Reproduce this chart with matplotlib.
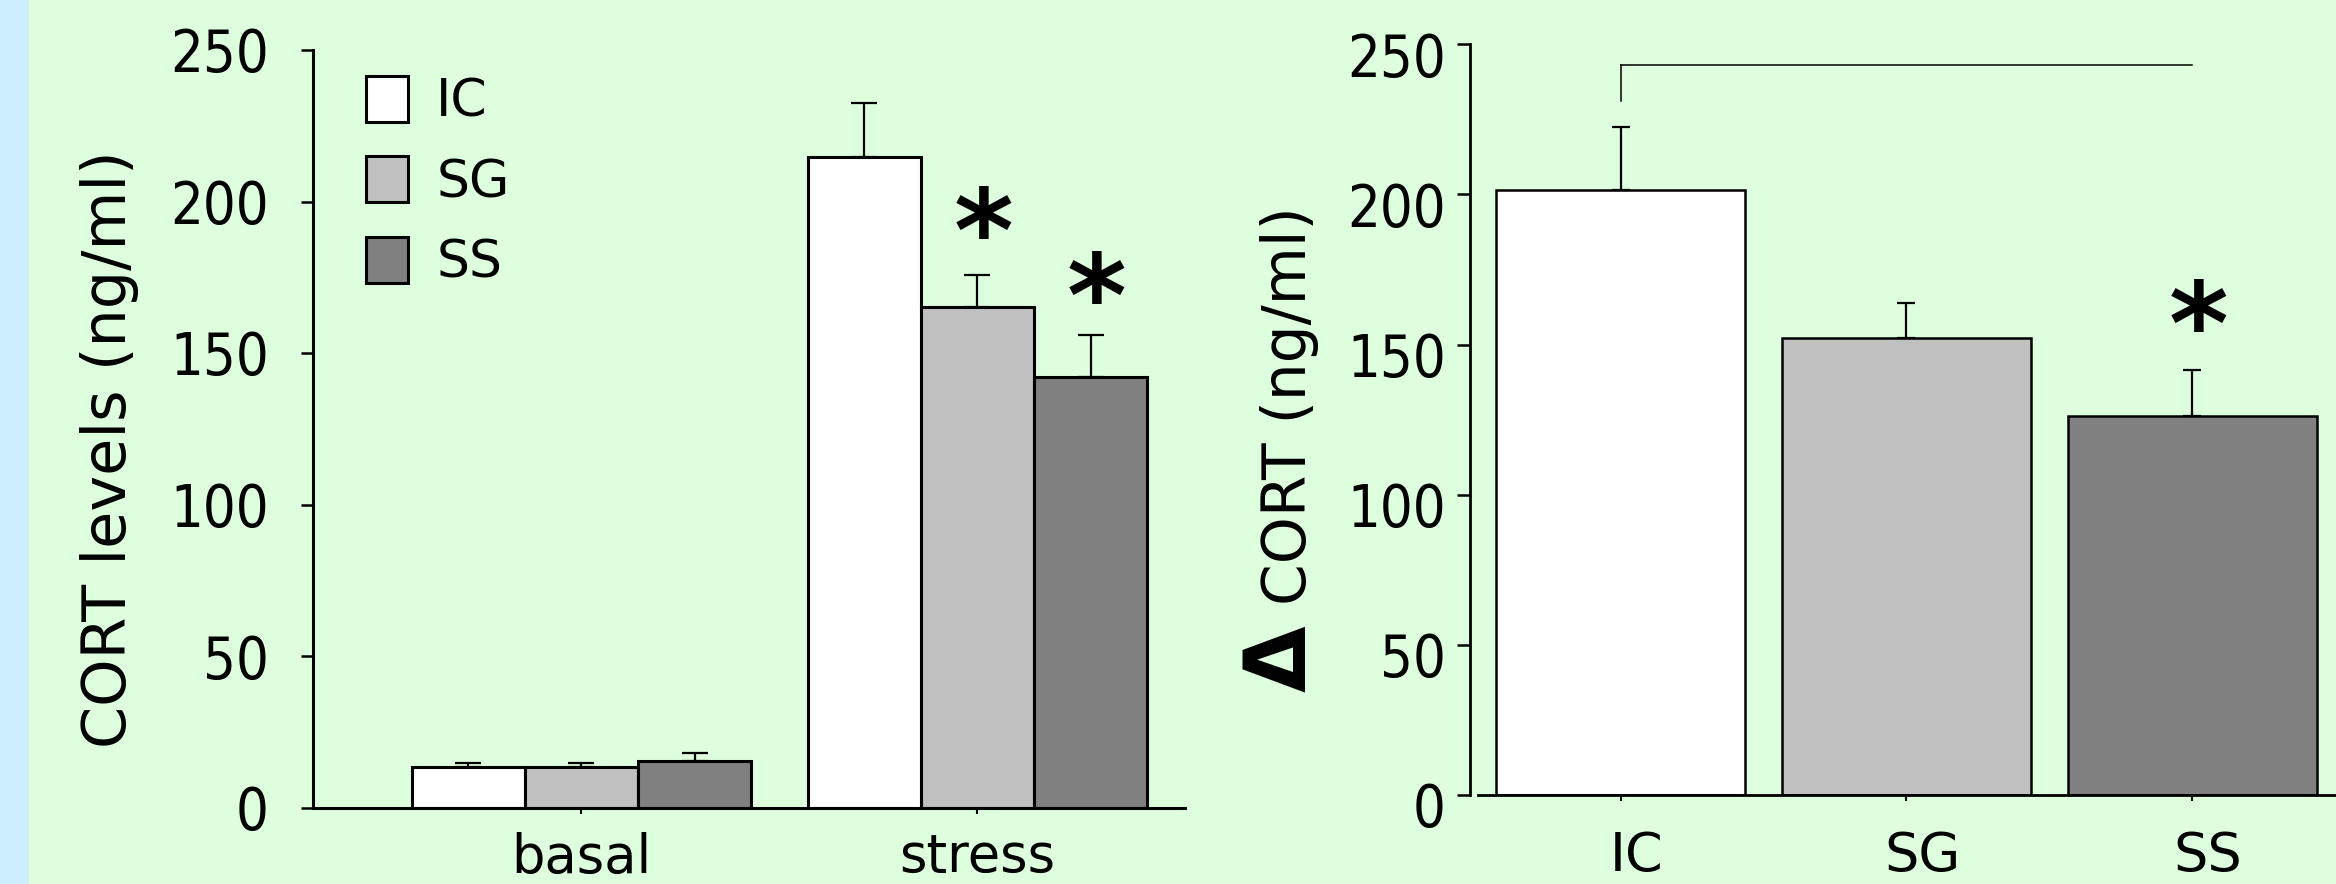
import matplotlib
matplotlib.use('Agg')
import matplotlib.pyplot as plt
from matplotlib.patches import Rectangle
from matplotlib.transforms import ScaledTranslation
import numpy as np

# ---------------- data ----------------
groups = ['IC', 'SG', 'SS']
conditions = ['basal', 'stress']
basal_mean = [13.3, 13.3, 15.5]
basal_sem = [1.5, 1.5, 2.6]
stress_mean = [214.6, 165.1, 142.0]
stress_sem = [18.0, 10.5, 14.0]
delta_mean = [201.5, 152.3, 126.3]
delta_sem = [21.0, 11.6, 15.2]
yticks = [0, 50, 100, 150, 200, 250]
left_star_y = [187.5, 166.0]     # stress SG, stress SS
right_star_y = 154.0              # SS
bracket_y = 243.0
bracket_leg_y = 231.0
colors = ['#ffffff', '#c0c0c0', '#808080']

W, H = 2336, 884
fig = plt.figure(figsize=(W / 100, H / 100), dpi=100, facecolor='#ddffdd')
fig.patches.append(Rectangle((0, 0), 29 / W, 1, transform=fig.transFigure,
                             facecolor='#cceeff', edgecolor='none', zorder=0))

star_off = ScaledTranslation(6 / 100, 0, fig.dpi_scale_trans)

# ---------------- left panel ----------------
ax1 = fig.add_axes([313.3 / W, (H - 807.5) / H, (1185 - 313.3) / W, (807.5 - 50) / H])
ax1.set_facecolor('none')
bw = 0.286
x = np.arange(len(conditions))
bars = []
for i, g in enumerate(groups):
    xs = x + (i - 1) * bw
    hs = [basal_mean[i], stress_mean[i]]
    es = [basal_sem[i], stress_sem[i]]
    b = ax1.bar(xs, hs, width=bw, color=colors[i], edgecolor='black',
                linewidth=2.2, label=g, zorder=2)
    bars.append(b)
    ax1.errorbar(xs, hs, yerr=[[0, 0], es], fmt='none', ecolor='black',
                 elinewidth=1.6, capsize=9.5, capthick=1.6, zorder=3)

ax1.set_xlim(-0.677, 1.524)
ax1.set_ylim(0, 250)
ax1.set_yticks(yticks)
ax1.set_xticks(x)
ax1.set_xticklabels(conditions, fontsize=38)
for s in ['top', 'right']:
    ax1.spines[s].set_visible(False)
for s in ['left', 'bottom']:
    ax1.spines[s].set_linewidth(2.2)
ax1.tick_params(axis='y', direction='out', length=8.6, width=1.8, pad=23.5)
ax1.tick_params(axis='x', direction='out', length=4, width=1.5, pad=13.5)
for lab in ax1.get_yticklabels():
    lab.set_fontsize(41.5)
    lab.set_fontstretch('condensed')

for xi, yv in zip([1, 1 + bw], left_star_y):
    ax1.text(xi, yv, '*', fontsize=82, fontweight='bold', ha='center', va='center',
             transform=ax1.transData + star_off)

ax1.legend(handles=bars, labels=groups, loc='upper left',
           bbox_to_anchor=(366 / W, (H - 76) / H), bbox_transform=fig.transFigure,
           frameon=False, fontsize=37.5, handlelength=0.8, handleheight=0.98,
           handletextpad=0.55, labelspacing=0.55, borderpad=0, borderaxespad=0)

fig.text(126 / W, (H - 748.5) / H, 'CORT levels (ng/ml)', fontsize=43.5,
         rotation=90, rotation_mode='anchor', ha='left', va='baseline')

# ---------------- right panel ----------------
ax2 = fig.add_axes([1470 / W, (H - 795) / H, (W - 1470) / W, (795 - 44.2) / H])
ax2.set_facecolor('none')
x2 = np.arange(len(groups))
ax2.bar(x2, delta_mean, width=0.872, color=colors, edgecolor='black',
        linewidth=1.8, zorder=2)
ax2.errorbar(x2, delta_mean, yerr=[[0] * 3, delta_sem], fmt='none', ecolor='black',
             elinewidth=1.6, capsize=6.5, capthick=1.6, zorder=3)
ax2.set_xlim(-0.528, 2.504)
ax2.set_ylim(0, 250)
ax2.set_yticks(yticks)
ax2.set_xticks(x2)
ax2.set_xticklabels(groups, fontsize=39)
for s in ['top', 'right']:
    ax2.spines[s].set_visible(False)
for s in ['left', 'bottom']:
    ax2.spines[s].set_linewidth(2.0)
ax2.spines['bottom'].set_bounds(-0.5, 2.504)
ax2.tick_params(axis='y', direction='out', length=9.4, width=1.8, pad=8.1)
ax2.tick_params(axis='x', direction='out', length=4, width=1.5, pad=21)
off = ScaledTranslation(0, -10 / 100, fig.dpi_scale_trans)
for lab in ax2.get_yticklabels():
    lab.set_fontsize(41.5)
    lab.set_fontstretch('condensed')
    lab.set_transform(lab.get_transform() + off)
offx = ScaledTranslation(16 / 100, 0, fig.dpi_scale_trans)
for lab in ax2.get_xticklabels():
    lab.set_transform(lab.get_transform() + offx)

ax2.text(2, right_star_y, '*', fontsize=82, fontweight='bold', ha='center', va='center',
         transform=ax2.transData + star_off)
ax2.plot([0, 2], [bracket_y, bracket_y], color='black', lw=1.1)
ax2.plot([0, 0], [bracket_leg_y, bracket_y], color='black', lw=1.1)

fig.text(1306 / W, (H - 691.5) / H, '\u0394', fontsize=62, fontweight='bold',
         rotation=90, rotation_mode='anchor', ha='left', va='baseline')
fig.text(1306 / W, (H - 605) / H, 'CORT (ng/ml)', fontsize=43,
         rotation=90, rotation_mode='anchor', ha='left', va='baseline')

fig.savefig('out.png', dpi=100, facecolor=fig.get_facecolor())
